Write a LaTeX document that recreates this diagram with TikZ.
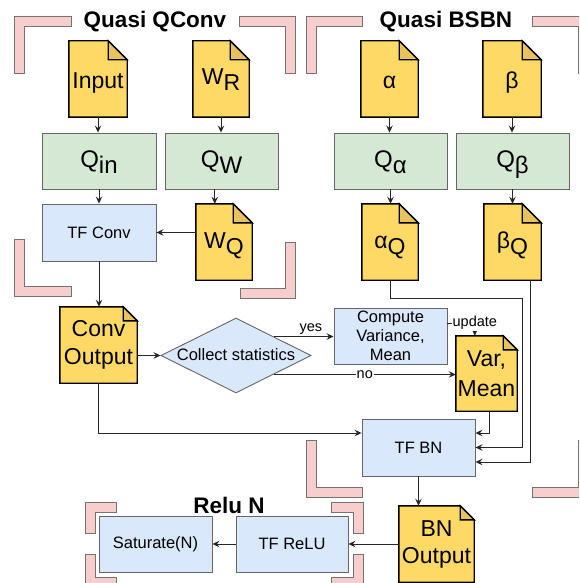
\documentclass[tikz,border=0pt]{standalone}
\usepackage{fontspec}
\setmainfont{Liberation Sans}
\usetikzlibrary{arrows.meta,shapes.geometric,backgrounds}

\definecolor{docyellow}{HTML}{FFD966}
\definecolor{docfold}{HTML}{E6C35C}
\definecolor{qgreen}{HTML}{D5E8D4}
\definecolor{tfblue}{HTML}{DAE8FC}
\definecolor{brpink}{HTML}{F8CECC}

\newcommand{\lowsub}[2][-6pt]{\raisebox{#1}{#2}}

\tikzset{
 arr/.style={draw=black!85, line width=0.9pt, -{Stealth[length=7pt,width=6.5pt,inset=2.5pt]}},
 qbox/.style={draw=black!60, fill=qgreen, line width=0.9pt, minimum width=113pt, minimum height=56pt, inner sep=0pt, font=\fontsize{24}{28}\selectfont},
 tfbox/.style={draw=black!60, fill=tfblue, line width=0.9pt, minimum width=113pt, minimum height=56pt, inner sep=0pt, align=center, font=\fontsize{16.5}{19}\selectfont},
 doc/.style={minimum width=57pt, minimum height=76pt, inner sep=0pt, align=center, font=\fontsize{23}{28}\selectfont},
 docline/.style={draw=black, line width=1.4pt, line join=miter},
 lowered/.style={text height=#1, text depth=0pt},
 bracket/.style={draw=black!55, fill=brpink, line width=0.8pt},
 title/.style={font=\bfseries\fontsize{22.5}{27}\selectfont},
 elabel/.style={font=\fontsize{14.5}{17}\selectfont, fill=white, inner sep=1pt},
}

\begin{document}
\begin{tikzpicture}[x=1pt, y=-1pt]
 \useasboundingbox (0, 0) rectangle (579, 583) ;
 \clip (0, 0) rectangle (579, 583) ;

 % corner marks
 \draw[bracket] (14, 16) -- (71, 16) -- (71, 26) -- (24, 26) -- (24, 73) -- (14, 73) -- cycle ;
 \draw[bracket] (239, 16) -- (295, 16) -- (295, 73) -- (285, 73) -- (285, 26) -- (239, 26) -- cycle ;
 \draw[bracket] (14, 239) -- (24, 239) -- (24, 286) -- (71, 286) -- (71, 296) -- (14, 296) -- cycle ;
 \draw[bracket] (285, 242) -- (295, 242) -- (295, 298) -- (240, 298) -- (240, 288) -- (285, 288) -- cycle ;
 \draw[bracket] (306, 16) -- (362, 16) -- (362, 26) -- (316, 26) -- (316, 73) -- (306, 73) -- cycle ;
 \draw[bracket] (532, 16) -- (588, 16) -- (588, 73) -- (578, 73) -- (578, 26) -- (532, 26) -- cycle ;
 \draw[bracket] (306, 440) -- (316, 440) -- (316, 487) -- (362, 487) -- (362, 497) -- (306, 497) -- cycle ;
 \draw[bracket] (578, 440) -- (588, 440) -- (588, 497) -- (532, 497) -- (532, 487) -- (578, 487) -- cycle ;
 \draw[bracket] (85, 502) -- (116, 502) -- (116, 512) -- (95, 512) -- (95, 533) -- (85, 533) -- cycle ;
 \draw[bracket] (331, 502) -- (363, 502) -- (363, 533) -- (353, 533) -- (353, 512) -- (331, 512) -- cycle ;
 \draw[bracket] (85, 554) -- (95, 554) -- (95, 577) -- (116, 577) -- (116, 587) -- (85, 587) -- cycle ;
 \draw[bracket] (353, 554) -- (363, 554) -- (363, 587) -- (331, 587) -- (331, 577) -- (353, 577) -- cycle ;

 \node[title] (tconv) at (155, 22) {Quasi QConv} ;
 \node[title] (tbsbn) at (446, 22) {Quasi BSBN} ;
 \node[title] (trelu) at (229, 505) {Relu N} ;

 % documents
 \node[doc, minimum width=58pt, lowered=20pt] (input) at (98, 79) {Input} ;
 \node[doc, minimum width=56pt, lowered=10.6pt] (wr) at (221, 79) {W\lowsub{R}} ;
 \node[doc, lowered=20pt] (alpha) at (389.5, 79) {α} ;
 \node[doc, minimum width=58pt, lowered=20pt] (beta) at (512, 79) {β} ;
 \node[doc, minimum width=56pt, lowered=12pt] (wq) at (224, 242) {W\lowsub{Q}} ;
 \node[doc, minimum width=56pt, lowered=12pt] (aq) at (390, 242) {α\lowsub{Q}} ;
 \node[doc, lowered=12pt] (bq) at (512.5, 242) {β\lowsub{Q}} ;
 \node[doc, minimum width=77pt] (convout) at (98.5, 345) {Conv\\Output} ;
 \node[doc, minimum width=61pt, minimum height=75pt, font=\fontsize{23}{30}\selectfont] (var) at (486.5, 373.5) {Var,\\Mean} ;
 \node[doc, minimum width=75pt, font=\fontsize{23}{27}\selectfont] (bnout) at (436.5, 544) {BN\\Output} ;

 \begin{scope}[on background layer]
 \foreach \d/\f in {input/19pt, wr/19pt, alpha/19pt, beta/19pt, wq/19pt, aq/19pt, bq/19pt, convout/14pt, var/14pt, bnout/14pt} {
  \draw[docline, fill=docyellow] (\d.south west) -- (\d.north west) -- ([xshift=-\f]\d.north east) -- ([yshift=-\f]\d.north east) -- (\d.south east) -- cycle ;
  \draw[docline, fill=docfold] ([xshift=-\f]\d.north east) -- ([xshift=-\f, yshift=-\f]\d.north east) -- ([yshift=-\f]\d.north east) -- cycle ;
 }
 \end{scope}

 % quantizers
 \node[qbox, minimum width=114pt, lowered=13.4pt] (qin) at (99, 161) {Q\lowsub[-5.6pt]{in}} ;
 \node[qbox, lowered=13.4pt] (qw) at (221.5, 161) {Q\lowsub[-5.6pt]{W}} ;
 \node[qbox, lowered=13.4pt] (qa) at (390.5, 161) {Q\lowsub[-5.6pt]{α}} ;
 \node[qbox, lowered=13.4pt] (qb) at (512.5, 161) {Q\lowsub[-5.6pt]{β}} ;

 % operations
 \node[tfbox, minimum width=114pt, minimum height=57pt] (tfconv) at (99, 232.5) {TF Conv} ;
 \node[tfbox] (compute) at (390.5, 336) {Compute\\Variance,\\Mean} ;
 \node[tfbox, minimum height=57pt] (tfbn) at (418.5, 447.5) {TF BN} ;
 \node[tfbox, minimum width=112pt] (tfrelu) at (292, 544) {TF ReLU} ;
 \node[tfbox] (saturate) at (155.5, 544) {Saturate(N)} ;
 \node[diamond, aspect=2, draw=black!60, fill=tfblue, line width=0.9pt, minimum width=150pt, minimum height=75pt, inner sep=0pt, text height=11pt, text depth=2pt, font=\fontsize{16.5}{19}\selectfont] (collect) at (236, 355.5) {Collect statistics} ;

 % connectors
 \draw[arr] (input.south) -- (input.south |- qin.north) ;
 \draw[arr] (wr.south) -- (wr.south |- qw.north) ;
 \draw[arr] (alpha.south) -- (alpha.south |- qa.north) ;
 \draw[arr] (beta.south) -- (beta.south |- qb.north) ;
 \draw[arr] (qin.south) -- (tfconv.north) ;
 \draw[arr] ([xshift=19pt]wq.north west |- qw.south) -- ([xshift=19pt]wq.north west) ;
 \draw[arr] (qa.south) -- (qa.south |- aq.north) ;
 \draw[arr] (qb.south) -- (qb.south |- bq.north) ;
 \draw[arr] (wq.west |- tfconv.east) -- (tfconv.east) ;
 \draw[arr] (tfconv.south) -- (tfconv.south |- convout.north) ;
 \draw[arr] (convout.east |- collect.west) -- (collect.west) ;
 \draw[arr] (collect.north east) -- node[pos=0.62, above=1pt, elabel, fill=none] {yes} (collect.north east -| compute.west) ;
 \draw[arr] (collect.south east) -- node[elabel] {no} (collect.south east -| var.west) ;
 \draw[arr] ([yshift=13pt]compute.east) -| node[elabel] {update} ([xshift=19pt]var.north west) ;
 \draw[arr] ([xshift=2.5pt]var.south) |- ([yshift=14.5pt]tfbn.east) ;
 \draw[arr] (aq.south) |- (522, 298) |- (tfbn.east) ;
 \draw[arr] ([xshift=47pt]bq.south west) |- ([yshift=-14.5pt]tfbn.east) ;
 \draw[arr] (convout.south) |- ([yshift=14.5pt]tfbn.west) ;
 \draw[arr] (tfbn.south) -- (tfbn.south |- bnout.north) ;
 \draw[arr] (bnout.west |- tfrelu.east) -- (tfrelu.east) ;
 \draw[arr] (tfrelu.west) -- (saturate.east) ;
\end{tikzpicture}
\end{document}
